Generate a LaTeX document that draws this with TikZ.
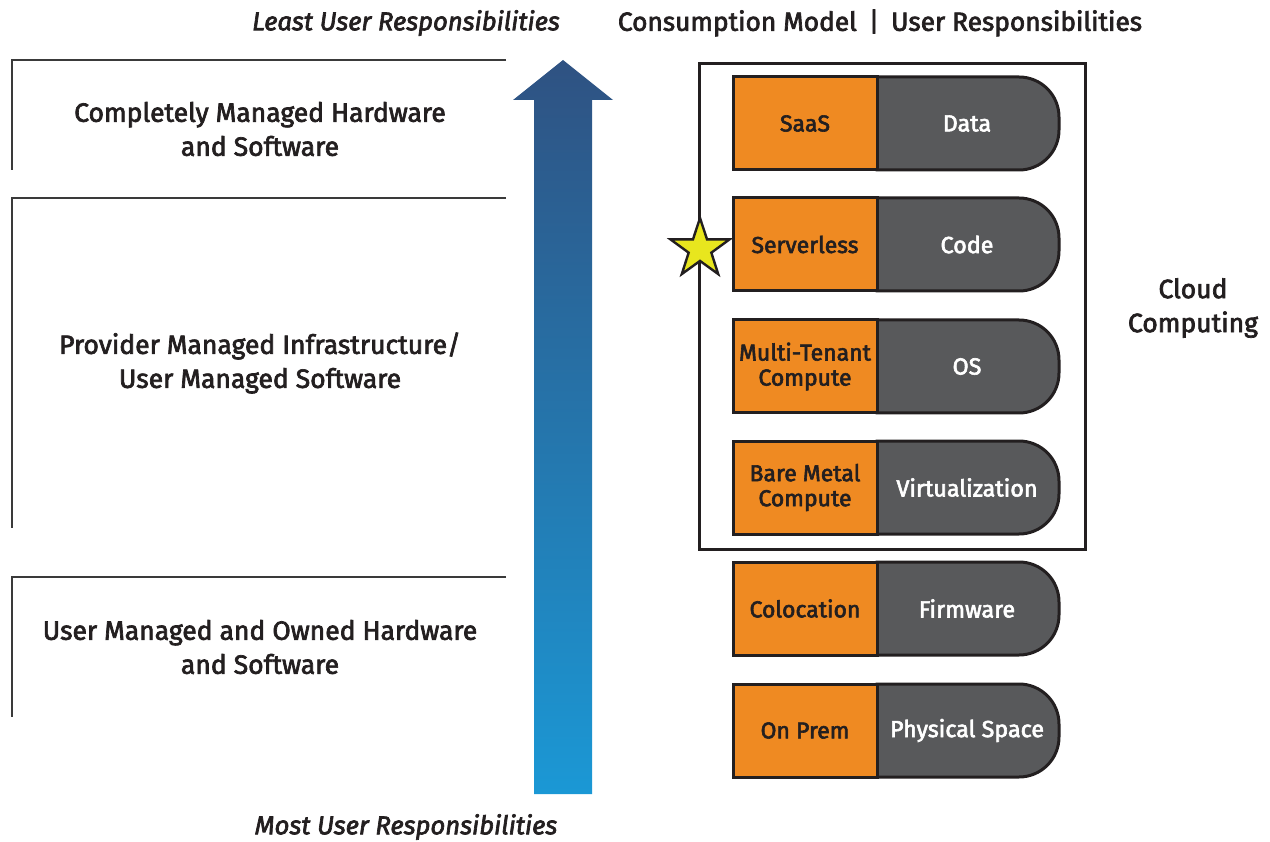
\documentclass[tikz,border=0pt]{standalone}
\usepackage{fontspec}
\setmainfont{Fira Sans}[FakeBold=2.6]
\usetikzlibrary{shapes.geometric}

\definecolor{ink}{HTML}{231F20}
\definecolor{tierorange}{HTML}{EF8A22}
\definecolor{tiergray}{HTML}{58595B}
\definecolor{arrowtop}{HTML}{2F5282}
\definecolor{arrowbot}{HTML}{1B98D5}
\definecolor{staryellow}{HTML}{E8E61E}
\definecolor{rule}{HTML}{3A3A3A}

\begin{document}
\begin{tikzpicture}[x=1pt, y=-1pt,
  bracket/.style={draw=rule, line width=1.4},
  tiertext/.style={text=ink, align=center, font=\fontsize{26.5}{34}\selectfont},
  endlabel/.style={text=ink, font=\fontsize{25.7}{30}\selectfont\itshape},
  headline/.style={text=ink, font=\fontsize{26.3}{30}\selectfont},
  modelbox/.style={draw=ink, line width=3, fill=tierorange, minimum width=144, minimum height=93,
                   inner sep=0, text=ink, align=center, font=\fontsize{23}{25}\selectfont},
  dutytext/.style={text=white, align=center, font=\fontsize{23.3}{25}\selectfont},
  cloudframe/.style={draw=ink, line width=3, minimum width=386, minimum height=485, inner sep=0},
  marker/.style={star, star points=5, star point ratio=2.6, minimum size=62, inner sep=0,
                 fill=staryellow, draw=ink, line width=2.4}
]
\useasboundingbox (0,0) rectangle (1270,842);

% left-hand brackets with their tier descriptions
\draw[bracket] (506,60) -- (12,60) -- (12,170);
\draw[bracket] (506,198) -- (12,198) -- (12,528);
\draw[bracket] (506,577) -- (12,577) -- (12,717);
\node[tiertext] (tierA) at (260,129) {Completely Managed Hardware\\and Software};
\node[tiertext] (tierB) at (260,363) {Provider Managed Infrastructure/\\User Managed Software};
\node[tiertext] (tierC) at (260,647) {User Managed and Owned Hardware\\and Software};

% responsibility arrow
\shade[top color=arrowtop, bottom color=arrowbot]
  (534,794) -- (534,100) -- (513,100) -- (563,60) -- (613,100) -- (592,100) -- (592,794) -- cycle;
\node[endlabel] (least) at (406,23) {Least User Responsibilities};
\node[endlabel] (most) at (406,827) {Most User Responsibilities};

% column heading
\node[headline] (heading) at (880,23) {Consumption Model\hspace{0.45em}|\hspace{0.45em}User Responsibilities};

% cloud computing frame
\node[cloudframe] (cloud) at (892,306.5) {};
\node[tiertext, font=\fontsize{26.5}{34}\selectfont] (cloudlabel) at (1193,308) {Cloud\\Computing};

% consumption model rows
\foreach \i/\t/\model/\duty in {
    1/77/SaaS/Data,
    2/198/Serverless/Code,
    3/320/{Multi-Tenant\\Compute}/OS,
    4/441/{Bare Metal\\Compute}/Virtualization,
    5/562/Colocation/Firmware,
    6/684/On Prem/Physical Space} {
  \pgfmathsetmacro{\b}{\t+93}
  \pgfmathsetmacro{\m}{\t+46.5}
  \path[fill=tiergray, draw=ink, line width=3]
    (877,\t) [rounded corners=40] -- (1059,\t) -- (1059,\b) [sharp corners] -- (877,\b) -- cycle;
  \node[modelbox] (model\i) at (805,\m) {\model};
  \node[dutytext] (duty\i) at (967,\m) {\duty};
}

% highlight star on the frame
\node[marker] (highlight) at (700,249) {};
\end{tikzpicture}
\end{document}
